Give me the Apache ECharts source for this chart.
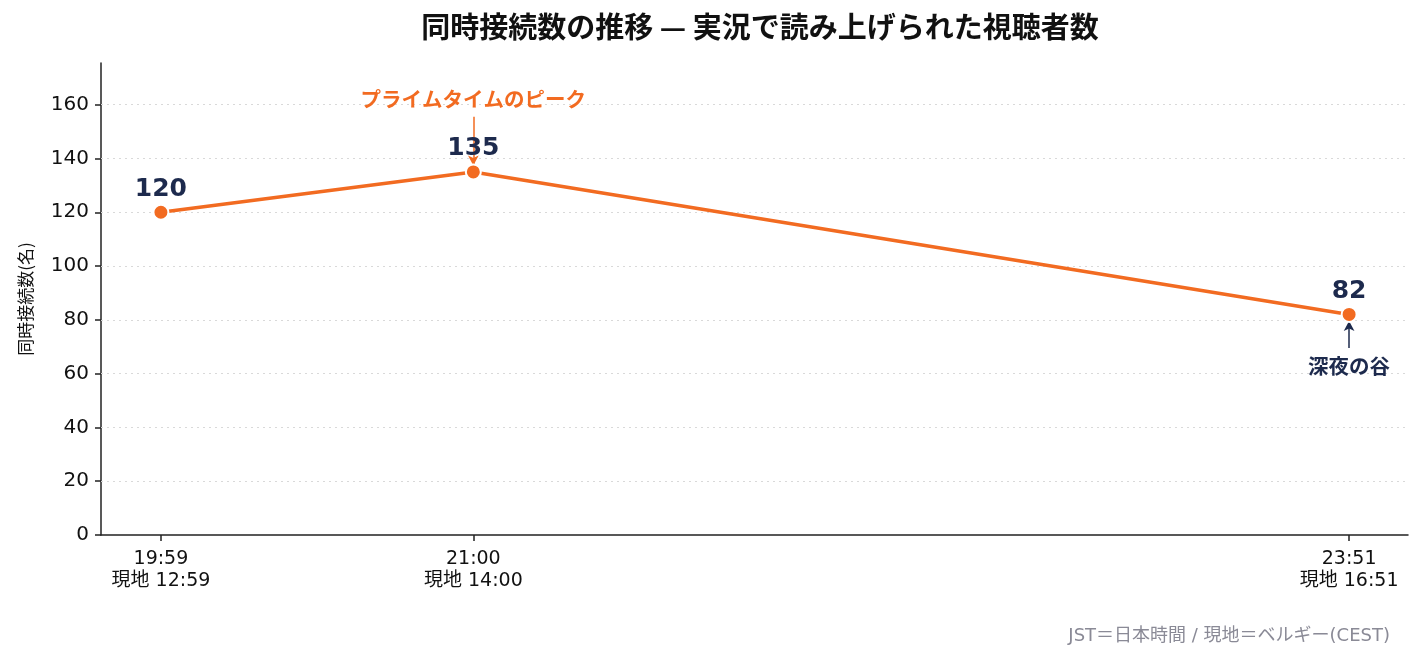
<!DOCTYPE html>
<html>
<head>
<meta charset="utf-8">
<script src="https://cdn.jsdelivr.net/npm/echarts@6/dist/echarts.min.js"></script>
<style>
  html, body { margin: 0; padding: 0; background: #fff; }
  #chart { width: 1423px; height: 663px; }
</style>
</head>
<body>
<div id="chart"></div>
<script>
// データ (JST と現地時間, 同時接続数)
const jstTimes = ['19:59', '21:00', '23:51'];
const localTimes = ['12:59', '14:00', '16:51'];
const viewers = [120, 135, 82];
const yTicks = [0, 20, 40, 60, 80, 100, 120, 140, 160];

const FONT = '"DejaVu Sans", "Noto Sans CJK JP", sans-serif';
const JFONT = '"Noto Sans CJK JP", sans-serif';
const ORANGE = '#f26b21';
const NAVY = '#1d2a4d';

// "HH:MM" -> 分
const toMin = (s) => { const p = s.split(':'); return Number(p[0]) * 60 + Number(p[1]); };
const xs = jstTimes.map(toMin);
const labelOf = {};
xs.forEach((m, i) => { labelOf[m] = jstTimes[i] + '\n現地 ' + localTimes[i]; });

const seriesData = xs.map((m, i) => [m, viewers[i]]);
const peakIdx = viewers.indexOf(Math.max(...viewers));
const lowIdx = viewers.indexOf(Math.min(...viewers));

const myChart = echarts.init(document.getElementById('chart'));
const option = {
  backgroundColor: '#fff',
  textStyle: { fontFamily: FONT },
  title: [
    {
      text: '同時接続数の推移 — 実況で読み上げられた視聴者数',
      left: 755, top: 7, textAlign: 'center',
      textStyle: { fontSize: 29, fontWeight: 'bold', color: '#111', fontFamily: JFONT }
    },
    {
      text: 'JST＝日本時間 / 現地＝ベルギー(CEST)',
      right: 28, bottom: 13,
      textStyle: { fontSize: 18, fontWeight: 'normal', color: '#8a8a96', fontFamily: FONT }
    }
  ],
  grid: { left: 101, right: 15, top: 63, bottom: 128 },
  xAxis: {
    type: 'value',
    min: xs[0] - 11.7,
    max: xs[xs.length - 1] + 11.5,
    axisLine: { show: true, lineStyle: { color: '#222', width: 1.5 } },
    axisTick: { show: true, length: 6, lineStyle: { color: '#222', width: 1.5 }, customValues: xs },
    axisLabel: {
      customValues: xs,
      formatter: (v) => labelOf[v] || '',
      color: '#111', fontSize: 19, lineHeight: 22, margin: 13, fontFamily: FONT
    },
    splitLine: { show: false }
  },
  yAxis: {
    type: 'value',
    min: 0,
    max: 175.5,
    name: '同時接続数(名)',
    nameLocation: 'middle',
    nameGap: 67,
    nameRotate: 90,
    nameTextStyle: { fontSize: 17, color: '#111', fontFamily: JFONT },
    axisLine: { show: true, lineStyle: { color: '#222', width: 1.5 } },
    axisTick: { show: true, length: 6, lineStyle: { color: '#222', width: 1.5 }, customValues: yTicks },
    axisLabel: { customValues: yTicks, color: '#111', fontSize: 20, margin: 12, fontFamily: FONT },
    splitLine: { show: false }
  },
  series: [
    {
      type: 'line',
      data: seriesData,
      symbol: 'circle',
      symbolSize: 15,
      lineStyle: { color: ORANGE, width: 3.5 },
      itemStyle: { color: ORANGE, borderColor: '#fff', borderWidth: 2 },
      label: {
        show: true, position: 'top', distance: 2,
        color: NAVY, fontSize: 25, fontWeight: 'bold', fontFamily: FONT
      },
      z: 5,
      markLine: {
        silent: true,
        symbol: ['none', 'none'],
        label: { show: false },
        lineStyle: { type: [2, 4], color: '#d9d9d9', width: 1 },
        data: yTicks.slice(1).map((v) => ({ yAxis: v }))
      },
      // 注釈: ピークと谷
      markPoint: {
        silent: true,
        symbol: 'rect',
        symbolSize: 1,
        itemStyle: { color: 'rgba(0,0,0,0)' },
        data: [
          {
            coord: [xs[peakIdx], 162.2],
            label: { show: true, position: 'inside', formatter: 'プライムタイムのピーク', color: ORANGE, fontSize: 20.5, fontWeight: 'bold', fontFamily: JFONT }
          },
          {
            coord: [xs[lowIdx], 62.9],
            label: { show: true, position: 'inside', formatter: '深夜の谷', color: NAVY, fontSize: 20.5, fontWeight: 'bold', fontFamily: JFONT }
          }
        ]
      }
    },
    {
      type: 'scatter',
      data: [],
      silent: true,
      markLine: {
        silent: true,
        symbol: ['none', 'arrow'],
        symbolSize: [8, 10],
        label: { show: false },
        data: [
          [
            { coord: [xs[peakIdx], 155.5], lineStyle: { color: ORANGE, width: 1.5, type: 'solid' } },
            { coord: [xs[peakIdx], 137.4] }
          ],
          [
            { coord: [xs[lowIdx], 69.5], lineStyle: { color: NAVY, width: 1.5, type: 'solid' } },
            { coord: [xs[lowIdx], 79.6] }
          ]
        ]
      }
    }
  ]
};
myChart.setOption(option);
window.addEventListener('resize', () => { myChart.resize(); });
</script>
</body>
</html>
